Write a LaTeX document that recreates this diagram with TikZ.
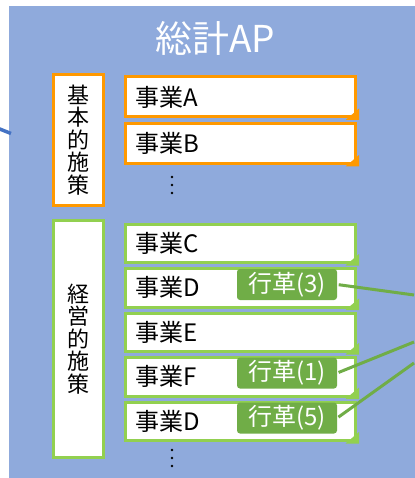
\documentclass[tikz,border=0pt]{standalone}
\usepackage{fontspec}
\newfontfamily\jp{Noto Sans CJK JP}
\definecolor{panel}{HTML}{8FAADC}
\definecolor{orng}{HTML}{FF9900}
\definecolor{lgreen}{HTML}{92D050}
\definecolor{dgreen}{HTML}{70AD47}
\definecolor{linkblue}{HTML}{4472C4}
\tikzset{
  catbox/.style={draw, line width=3pt, fill=white, minimum width=50pt, inner sep=0pt,
    font=\jp\fontsize{22}{22.5}\selectfont, align=center},
  jbox/.style={draw, line width=3pt, fill=white, anchor=north west, text width=209pt,
    inner xsep=10.5pt, inner ysep=0pt, align=left, font=\jp\fontsize{24}{26}\selectfont},
  tag/.style={fill=dgreen, rounded corners=3pt, minimum width=100pt, minimum height=31pt,
    inner sep=0pt, text=white, font=\jp\fontsize{24}{26}\selectfont},
  link/.style={draw=dgreen, line width=3pt},
  dot/.style={fill=black, circle, inner sep=0pt, minimum size=2.6pt},
}
\newcommand{\flap}[2]{%
  \fill[#2] ([xshift=-11pt,yshift=-1.5pt]#1.south east) -- ([xshift=2.5pt,yshift=10pt]#1.south east)
    -- ([xshift=2.5pt,yshift=-1.5pt]#1.south east) -- cycle;}
\newcommand{\vdotsat}[2]{%
  \node[dot] at (#1,#2-8) {};
  \node[dot] at (#1,#2) {};
  \node[dot] at (#1,#2+8) {};}
\begin{document}
\begin{tikzpicture}[x=1pt,y=-1pt]
\useasboundingbox (0,0) rectangle (414,478);
\fill[white] (0,0) rectangle (414,478);
\node[fill=panel, anchor=north west, minimum width=410pt, minimum height=472pt, inner sep=0pt] (pan) at (9,6) {};
\coordinate (lin) at (-2,128.3);
\coordinate (lout) at (11,133.5);
\draw[linkblue, line width=3.5pt] (lin) -- (lout);
\node[text=white, font=\jp\fontsize{37}{40}\selectfont, inner sep=0pt] (title) at (215,38) {総計AP};
% orange group
\node[catbox, draw=orng, minimum height=131pt] (kihon) at (78.5,140) {基\\本\\的\\施\\策};
\node[jbox, draw=orng, minimum height=40pt] (A) at (123.5,75.5) {事業A};
\flap{A}{orng}
\node[jbox, draw=orng, minimum height=40pt] (B) at (123.5,122) {事業B};
\flap{B}{orng}
\vdotsat{172}{185}
% green group
\node[catbox, draw=lgreen, minimum height=237pt] (keiei) at (78.5,339) {経\\営\\的\\施\\策};
\node[jbox, draw=lgreen, minimum height=38.5pt] (C) at (123.5,222.5) {事業C};
\flap{C}{lgreen}
\node[jbox, draw=lgreen, minimum height=38.5pt] (D) at (123.5,267) {事業D};
\flap{D}{lgreen}
\node[jbox, draw=lgreen, minimum height=38.5pt] (E) at (123.5,311.5) {事業E};
\flap{E}{lgreen}
\node[jbox, draw=lgreen, minimum height=38.5pt] (F) at (123.5,356) {事業F};
\flap{F}{lgreen}
\node[jbox, draw=lgreen, minimum height=38.5pt] (D2) at (123.5,400.5) {事業D};
\flap{D2}{lgreen}
\vdotsat{172}{458}
% tags
\node[tag] (t3) at (287,284.5) {行革(3)};
\node[tag] (t1) at (287,373) {行革(1)};
\node[tag] (t5) at (287,418) {行革(5)};
\coordinate (r3) at (414,295);
\coordinate (r1) at (414,342);
\coordinate (r5) at (414,363);
\draw[link, shorten <=1.5pt] (t3.east) -- (r3);
\draw[link, shorten <=1.5pt] (t1.east) -- (r1);
\draw[link, shorten <=1.5pt] (t5.east) -- (r5);
\end{tikzpicture}
\end{document}
